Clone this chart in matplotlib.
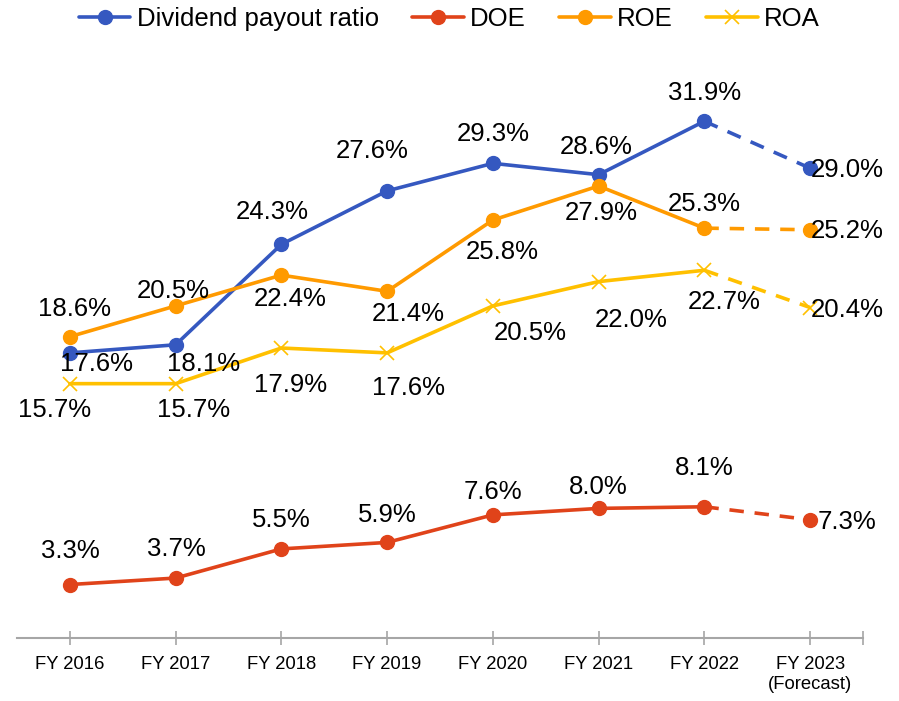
import matplotlib
matplotlib.use("Agg")
import matplotlib.pyplot as plt

plt.rcParams['font.family'] = ['Liberation Sans', 'DejaVu Sans']

categories = ["FY 2016", "FY 2017", "FY 2018", "FY 2019", "FY 2020", "FY 2021", "FY 2022", "FY 2023\n(Forecast)"]
payout = [17.6, 18.1, 24.3, 27.6, 29.3, 28.6, 31.9, 29.0]
doe = [3.3, 3.7, 5.5, 5.9, 7.6, 8.0, 8.1, 7.3]
roe = [18.6, 20.5, 22.4, 21.4, 25.8, 27.9, 25.3, 25.2]
roa = [15.7, 15.7, 17.9, 17.6, 20.5, 22.0, 22.7, 20.4]

# label offsets in pixels (dx, dy)
off_payout = [(27, -11), (28, -19), (-9, 32), (-15, 40), (0, 29), (-2, 28), (0, 28), (37, -2)]
off_doe = [(0, 34), (1, 29), (0, 29), (0, 27), (0, 23), (0, 21), (0, 39), (37, -2)]
off_roe = [(5, 28), (-2, 15), (9, -24), (21, -23), (9, -32), (3, -27), (0, 24), (37, -1)]
off_roa = [(-15, -26), (18, -26), (9, -37), (21, -35), (37, -27), (33, -38), (20, -32), (37, -2)]

fig = plt.figure(figsize=(8.99, 7.01), dpi=100)
ax = fig.add_axes([17/899, 1 - 638/701, (863 - 17)/899, (638 - 71)/701])

x = list(range(len(categories)))
series = [
    ("Dividend payout ratio", payout, "#3558C0", "o", off_payout),
    ("DOE", doe, "#E0431A", "o", off_doe),
    ("ROE", roe, "#FF9A00", "o", off_roe),
    ("ROA", roa, "#FFC000", "x", off_roa),
]

handles = []
for name, vals, col, mk, offs in series:
    ms = 10
    mew = 1.2 if mk == "x" else 1
    h, = ax.plot(x[:7], vals[:7], color=col, lw=2.6, marker=mk, ms=ms, mew=mew,
                 label=name, solid_capstyle='round')
    ax.plot(x[6:], vals[6:], color=col, lw=2.6, ls=(0, (4, 3)), marker=mk, ms=ms,
            mew=mew, markevery=[1])
    handles.append(h)
    for xi, v, (dx, dy) in zip(x, vals, offs):
        ax.annotate(f"{v:.1f}%", (xi, v), xytext=(dx, dy), textcoords='offset pixels',
                    ha='center', va='center', fontsize=18.5, color='black')

ax.set_xlim(-0.5, 7.5)
ax.set_ylim(0, 35)
ax.set_yticks([])
for s in ['top', 'right', 'left']:
    ax.spines[s].set_visible(False)
ax.spines['bottom'].set_color('#A6A6A6')
ax.spines['bottom'].set_linewidth(1.5)
ax.set_xticks(x)
ax.set_xticklabels(categories, fontsize=13.3)
ax.set_xticks([7.5], minor=True)
ax.tick_params(axis='x', which='both', direction='inout', length=10, width=1.2, color='#A6A6A6', pad=8)

fig.legend(handles=handles, loc='center', bbox_to_anchor=(0.5, 1 - 19/701), ncol=4, frameon=False,
           fontsize=18.5, handlelength=2.0, handletextpad=0.25, columnspacing=1.3)

fig.savefig("out.png", dpi=100)
